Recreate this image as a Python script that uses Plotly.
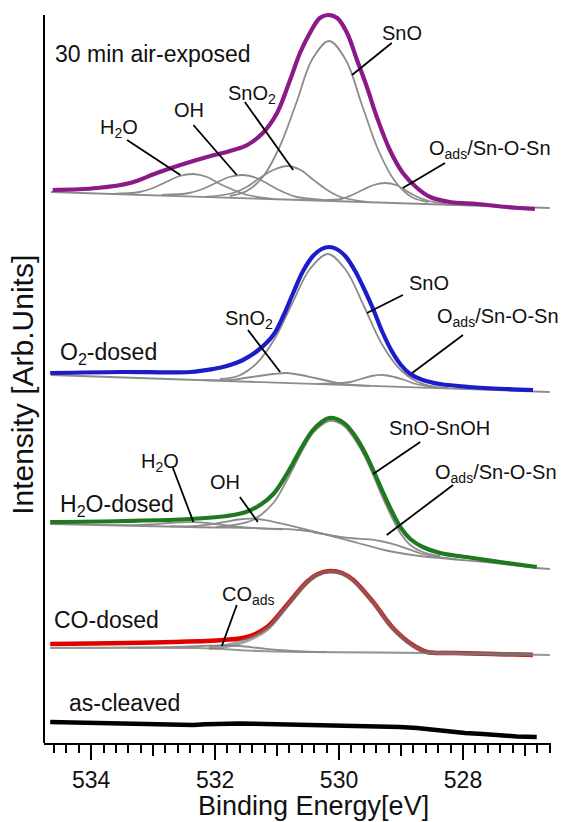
import plotly.graph_objects as go

# ------------------------------------------------------------------
# O 1s spectra of SnO surfaces (binding energy in eV, intensity in
# arbitrary units, spectra stacked with vertical offsets)
# ------------------------------------------------------------------
E_LO, E_HI = 526.58, 534.76
I_TOP = 740

# ---- 30 min air-exposed ------------------------------------------
air_E = [534.62, 533.90, 533.37, 532.94, 532.56, 532.13, 531.76, 531.48, 531.23,
         531.00, 530.79, 530.63, 530.47, 530.31, 530.18, 530.03, 529.87, 529.71,
         529.55, 529.39, 529.18, 528.97, 528.74, 528.53, 528.21, 527.77, 527.29, 526.84]
air_I = [553, 555, 560, 570, 578, 586, 592, 598, 610, 630, 663, 690, 710, 725, 728,
         725, 710, 683, 656, 626, 593, 570, 555, 546, 541, 539, 536, 534]
air_bg_E = [534.65, 526.60]
air_bg_I = [551, 535]
air_h2o_E = [533.66, 533.22, 533.00, 532.79, 532.57, 532.35, 532.13, 531.92, 531.70, 531.48, 531.05]
air_h2o_I = [549, 551, 555, 561, 567, 569, 566, 559, 553, 548, 544]
air_oh_E = [532.86, 532.42, 532.20, 531.99, 531.77, 531.55, 531.33, 531.12, 530.90, 530.68, 530.25]
air_oh_I = [548, 550, 554, 560, 566, 568, 565, 558, 551, 546, 543]
air_sno2_E = [532.15, 531.71, 531.49, 531.28, 531.06, 530.84, 530.62, 530.41, 530.19, 529.97, 529.54]
air_sno2_I = [546, 550, 556, 565, 573, 577, 573, 563, 553, 546, 541]
air_sno_E = [531.76, 531.49, 531.23, 530.96, 530.69, 530.43, 530.16, 529.89, 529.63,
             529.36, 529.10, 528.83, 528.56]
air_sno_I = [547, 552, 566, 596, 640, 684, 702, 683, 638, 592, 562, 546, 541]
air_oads_E = [530.33, 529.97, 529.79, 529.62, 529.44, 529.26, 529.08, 528.91, 528.73, 528.55, 528.20]
air_oads_I = [543, 544, 548, 553, 558, 560, 558, 552, 546, 542, 538]

# ---- O2-dosed ----------------------------------------------------
o2_E = [534.66, 533.53, 532.40, 532.03, 531.81, 531.55, 531.30, 531.06, 530.90, 530.74,
        530.58, 530.42, 530.28, 530.16, 530.04, 529.90, 529.74, 529.58, 529.45, 529.30,
        529.15, 529.00, 528.85, 528.65, 528.37, 527.89, 527.32, 526.87]
o2_I = [370, 371, 371, 374, 377, 383, 393, 408, 427, 450, 472, 487, 494, 496, 494, 487,
        472, 452, 434, 411, 392, 378, 369, 363, 359, 356, 354, 353]
o2_bg_E = [534.65, 526.60]
o2_bg_I = [368, 351]
o2_sno_E = [531.92, 531.63, 531.34, 531.05, 530.76, 530.47, 530.18, 529.89, 529.60,
            529.31, 529.02, 528.73, 528.44]
o2_sno_I = [364, 367, 379, 403, 439, 474, 489, 473, 437, 399, 374, 361, 356]
o2_sno2_E = [532.19, 531.74, 531.52, 531.29, 531.07, 530.84, 530.62, 530.39, 530.17, 529.94, 529.49]
o2_sno2_I = [363, 363, 365, 367, 369, 370, 368, 365, 362, 359, 357]
o2_oads_E = [530.36, 530.00, 529.82, 529.65, 529.47, 529.29, 529.11, 528.94, 528.76, 528.58, 528.23]
o2_oads_I = [359, 360, 361, 364, 367, 368, 366, 363, 359, 357, 355]

# ---- H2O-dosed ---------------------------------------------------
h2o_E = [534.66, 533.48, 532.40, 531.81, 531.50, 531.25, 531.06, 530.90, 530.74, 530.58,
         530.42, 530.28, 530.16, 530.04, 529.90, 529.74, 529.58, 529.45, 529.30, 529.15,
         529.00, 528.85, 528.65, 528.37, 527.84, 527.29, 526.81]
h2o_I = [221, 222, 224, 227, 231, 239, 249, 263, 280, 298, 313, 321, 325, 324, 319, 307,
         290, 273, 252, 232, 215, 204, 196, 190, 185, 180, 176]
h2o_bg_E = [534.66, 532.40, 530.63, 530.18, 529.70, 529.20, 528.70, 528.20, 527.50, 526.81, 526.60]
h2o_bg_I = [219, 216, 213, 208, 200, 192, 187, 184, 180, 175, 174]
h2o_main_E = [531.98, 531.70, 531.39, 531.06, 530.90, 530.74, 530.58, 530.42, 530.28, 530.16,
              530.04, 529.90, 529.74, 529.58, 529.45, 529.30, 529.15, 529.00, 528.85, 528.65, 528.37]
h2o_main_I = [216, 218, 223, 240, 256, 275, 294, 310, 318, 322, 321, 316, 303, 286, 268,
              246, 226, 209, 198, 191, 187]
h2o_w_E = [533.79, 533.31, 533.07, 532.83, 532.59, 532.35, 532.11, 531.87, 531.63, 531.39, 530.91]
h2o_w_I = [217.9, 217.9, 218.5, 219.6, 220.7, 220.9, 219.9, 218.1, 216.3, 215.0, 213.6]
h2o_oh_E = [532.74, 532.29, 532.07, 531.84, 531.62, 531.39, 531.17, 530.94, 530.72, 530.49, 530.04]
h2o_oh_I = [216.6, 217.2, 218.6, 221.1, 223.5, 224.3, 222.7, 219.6, 216.4, 212.8, 205.8]
h2o_oads_E = [530.43, 530.04, 529.85, 529.65, 529.46, 529.26, 529.07, 528.87, 528.68, 528.48, 528.09]
h2o_oads_I = [210.9, 206.8, 205.1, 204.1, 203.3, 201.0, 197.8, 193.6, 189.5, 186.8, 183.5]

# ---- CO-dosed ----------------------------------------------------
co_E = [534.66, 532.68, 531.87, 531.48, 531.16, 530.84, 530.52, 530.34, 530.15, 529.95,
        529.77, 529.45, 529.13, 528.81, 528.58, 528.10, 526.87]
co_I = [99, 101, 103, 106, 116, 138, 161, 169, 172, 170, 163, 141, 115, 98, 91, 90, 88]
co_bg_E = [534.66, 532.30, 531.30, 530.50, 528.70, 526.60]
co_bg_I = [95, 95, 92, 91, 90, 88]
co_main_E = [532.10, 531.87, 531.48, 531.16, 530.84, 530.52, 530.34, 530.15, 529.95,
             529.77, 529.45, 529.13, 528.81, 528.58, 528.20, 527.50, 526.87]
co_main_I = [95.3, 96.5, 103, 114, 137, 160.5, 168.5, 171.5, 169.5, 162.5, 140.5, 114.5,
             97.5, 91, 90, 89.2, 88.3]
co_ads_E = [533.40, 532.90, 532.40, 532.10, 531.89, 531.60, 531.30, 531.00, 530.60, 530.20]
co_ads_I = [95.2, 95.6, 96.5, 97.3, 97.6, 97.0, 95.0, 93.0, 91.5, 91.0]

# ---- as-cleaved --------------------------------------------------
clv_E = [534.66, 534.34, 534.06, 533.69, 533.37, 532.99, 532.65, 532.35, 532.16, 531.92,
         531.60, 531.39, 530.95, 530.58, 530.31, 529.82, 529.34, 529.02, 528.74, 528.45,
         528.21, 527.97, 527.68, 527.40, 527.13, 526.81]
clv_I = [21, 20.5, 20, 19.5, 19, 18.5, 18, 18, 18.8, 19.5, 19.5, 19.3, 18.8, 18, 17.5,
         16.5, 16, 16, 15, 13, 11, 10, 9, 7.5, 6.5, 6]

# ------------------------------------------------------------------
GRAY = "#8c8c8c"
FONT = "Liberation Sans, Arial, sans-serif"
INK = "#111111"

fig = go.Figure()


def curve(x, y, color, width, shape="spline"):
    fig.add_trace(go.Scatter(x=x, y=y, mode="lines", showlegend=False, hoverinfo="skip",
                             line=dict(color=color, width=width, shape=shape)))


# air-exposed: fit components under the measured spectrum
for xs, ys in [(air_bg_E, air_bg_I), (air_h2o_E, air_h2o_I), (air_oh_E, air_oh_I),
               (air_sno2_E, air_sno2_I), (air_sno_E, air_sno_I), (air_oads_E, air_oads_I)]:
    curve(xs, ys, GRAY, 1.8)
curve(air_E, air_I, "#8b1a88", 4.2)

# O2-dosed
for xs, ys in [(o2_bg_E, o2_bg_I), (o2_sno2_E, o2_sno2_I), (o2_oads_E, o2_oads_I),
               (o2_sno_E, o2_sno_I)]:
    curve(xs, ys, GRAY, 1.8)
curve(o2_E, o2_I, "#1c1cc8", 4.2)

# H2O-dosed
for xs, ys in [(h2o_bg_E, h2o_bg_I), (h2o_w_E, h2o_w_I), (h2o_oh_E, h2o_oh_I),
               (h2o_oads_E, h2o_oads_I), (h2o_main_E, h2o_main_I)]:
    curve(xs, ys, GRAY, 1.8)
curve(h2o_E, h2o_I, "#1f7a1f", 4.2)

# CO-dosed: fit drawn over the measured spectrum
curve(co_E, co_I, "#e00000", 4.5)
curve(co_bg_E, co_bg_I, "rgba(125,125,125,0.8)", 2.2)
curve(co_ads_E, co_ads_I, GRAY, 1.8)
curve(co_main_E, co_main_I, "rgba(118,118,118,0.68)", 4.2)

# as-cleaved
curve(clv_E, clv_I, "#000000", 4.5, shape="linear")

# carrier for the odd-integer tick marks
fig.add_trace(go.Scatter(x=[], y=[], xaxis="x2", mode="lines", showlegend=False))

# ------------------------------------------------------------------
# labels: (text, x [eV], y [a.u.], size, anchor)
labels = [
    ("30 min air-exposed", 534.62, 689, 23, "left"),
    ("<b>O-1s</b>", 526.24, 712, 25, "right"),
    ("SnO", 528.98, 710, 20, "center"),
    ("O<sub>ads</sub>/Sn-O-Sn", 528.58, 594, 20, "left"),
    ("SnO<sub>2</sub>", 531.82, 649, 20, "left"),
    ("OH", 532.69, 633, 20, "left"),
    ("H<sub>2</sub>O", 533.89, 615, 20, "left"),
    ("O<sub>2</sub>-dosed", 534.53, 390, 23, "left"),
    ("SnO<sub>2</sub>", 531.87, 424, 20, "left"),
    ("SnO", 528.90, 460, 20, "left"),
    ("O<sub>ads</sub>/Sn-O-Sn", 528.45, 426, 20, "left"),
    ("H<sub>2</sub>O-dosed", 534.53, 238, 23, "left"),
    ("H<sub>2</sub>O", 533.23, 281, 20, "left"),
    ("OH", 532.11, 261, 20, "left"),
    ("SnO-SnOH", 529.23, 315, 20, "left"),
    ("O<sub>ads</sub>/Sn-O-Sn", 528.48, 270, 20, "left"),
    ("CO-dosed", 534.63, 123, 23, "left"),
    ("CO<sub>ads</sub>", 531.92, 148, 20, "left"),
    ("as-cleaved", 534.39, 40, 23, "left"),
]
annotations = [dict(text=t, x=x, y=y, xref="x", yref="y", xanchor=a, yanchor="middle",
                    showarrow=False, font=dict(family=FONT, size=s, color=INK))
               for t, x, y, s, a in labels]

# axis titles
annotations.append(dict(text="Binding Energy[eV]", x=0.5306, y=-0.085, xref="paper",
                        yref="paper", xanchor="center", yanchor="middle", showarrow=False,
                        font=dict(family=FONT, size=27, color=INK)))
annotations.append(dict(text="Intensity [Arb.Units]", x=-0.0414, y=0.484, xref="paper",
                        yref="paper", xanchor="center", yanchor="middle", textangle=-90,
                        showarrow=False, font=dict(family=FONT, size=30, color=INK)))

# leader lines from labels to components: (x0, y0, x1, y1)
leaders = [
    (533.42, 603, 532.56, 568), (532.35, 618, 531.65, 568), (531.52, 641, 530.74, 573),
    (529.15, 700, 529.79, 668), (528.29, 580, 528.97, 555),
    (531.47, 413, 530.95, 371), (528.97, 448, 529.55, 430), (528.00, 408, 528.82, 370),
    (532.68, 275, 532.35, 221), (531.60, 246, 531.31, 221), (528.69, 301, 529.45, 269),
    (528.16, 258, 529.23, 208),
    (531.65, 138, 531.89, 97),
]
shapes = [dict(type="line", xref="x", yref="y", x0=a, y0=b, x1=c, y1=d,
               line=dict(color="#000000", width=1.8)) for a, b, c, d in leaders]
# left axis line
shapes.append(dict(type="line", xref="paper", yref="y", x0=0, x1=0, y0=0, y1=728,
                   line=dict(color="#000000", width=2)))

axis_common = dict(range=[E_HI, E_LO], showgrid=False, zeroline=False)
fig.update_layout(
    width=576, height=822,
    margin=dict(l=44, r=25, t=3, b=79),
    paper_bgcolor="white", plot_bgcolor="white",
    xaxis=dict(**axis_common, showline=True, linecolor="black", linewidth=2,
               ticks="outside", ticklen=15, tickwidth=2, tickcolor="black",
               tick0=0, dtick=2, tickformat="d",
               tickfont=dict(family=FONT, size=23, color=INK),
               minor=dict(ticks="outside", ticklen=8, tickwidth=2, tickcolor="black",
                          tick0=0, dtick=0.2, showgrid=False)),
    xaxis2=dict(**axis_common, overlaying="x", anchor="y", side="bottom",
                tickvals=[527, 529, 531, 533], ticks="outside", ticklen=12, tickwidth=2,
                tickcolor="black", showticklabels=False, showline=False),
    yaxis=dict(range=[0, I_TOP], showgrid=False, zeroline=False, showline=False,
               showticklabels=False, ticks=""),
    annotations=annotations,
    shapes=shapes,
)

fig.write_html("out.html")
